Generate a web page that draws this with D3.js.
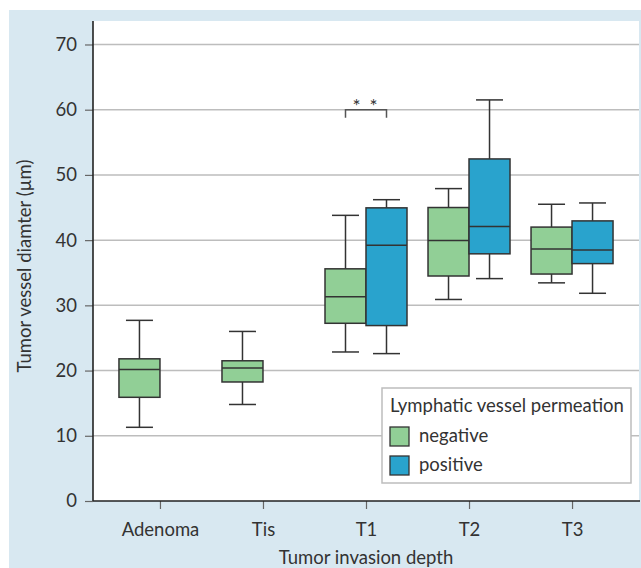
<!DOCTYPE html>
<html>
<head>
<meta charset="utf-8">
<script src="https://cdn.jsdelivr.net/npm/d3@7"></script>
<style>
  html, body { margin: 0; padding: 0; background: #ffffff; }
  svg { display: block; }
  text { font-family: Lato, "Open Sans", sans-serif; fill: #333; }
</style>
</head>
<body>
<div id="chart"></div>
<script>
// ---- data ----
const categories = ["Adenoma", "Tis", "T1", "T2", "T3"];
const seriesNames = ["negative", "positive"];
const seriesColors = ["#91cf96", "#29a3cd"];
const legendTitle = "Lymphatic vessel permeation";
const yTicks = [0, 10, 20, 30, 40, 50, 60, 70];

const negMax = [27.7, 26.0, 43.8, 47.9, 45.5];
const negQ3  = [21.8, 21.5, 35.6, 45.0, 42.0];
const negMed = [20.15, 20.4, 31.3, 39.95, 38.65];
const negQ1  = [15.9, 18.25, 27.25, 34.5, 34.8];
const negMin = [11.3, 14.8, 22.85, 30.9, 33.45];

const posMax = [null, null, 46.2, 61.5, 45.7];
const posQ3  = [null, null, 44.95, 52.45, 42.95];
const posMed = [null, null, 39.2, 42.1, 38.5];
const posQ1  = [null, null, 26.9, 37.9, 36.4];
const posMin = [null, null, 22.6, 34.1, 31.85];

const sigCategory = "T1";
const sigValue = 60;
const sigLabel = "* *";

const xTitle = "Tumor invasion depth";
const yTitle = "Tumor vessel diamter (µm)";

// ---- layout ----
const W = 641, H = 568;
const plot = { left: 93, right: 639, top: 21, bottom: 501 };
const fs = 18.5;

const svg = d3.select("#chart").append("svg").attr("width", W).attr("height", H);

// background
svg.append("rect").attr("x", 9).attr("y", 10).attr("width", W - 9).attr("height", H - 10).attr("fill", "#d8e8f1");
svg.append("rect").attr("x", plot.left).attr("y", plot.top)
  .attr("width", plot.right - plot.left).attr("height", plot.bottom - plot.top).attr("fill", "#ffffff");

const x = d3.scalePoint().domain(categories).range([plot.left, plot.right]).padding(0.65);
const y = d3.scaleLinear().domain([0, 73.6]).range([plot.bottom, plot.top]);

// grid
svg.append("g").selectAll("line").data(yTicks.filter(d => d > 0)).join("line")
  .attr("x1", plot.left).attr("x2", plot.right)
  .attr("y1", d => y(d)).attr("y2", d => y(d))
  .attr("stroke", "#bdbdbd").attr("stroke-width", 1.5);

// axes
const yAxis = svg.append("g").attr("transform", `translate(${plot.left},0)`)
  .call(d3.axisLeft(y).tickValues(yTicks).tickSize(8).tickPadding(8).tickFormat(d3.format("d")));
yAxis.select(".domain").remove();
yAxis.selectAll(".tick line").attr("stroke", "#666").attr("stroke-width", 1.2);
yAxis.selectAll(".tick text").attr("font-size", fs).attr("fill", "#333").style("font-family", "Lato, sans-serif");

const xAxis = svg.append("g").attr("transform", `translate(0,${plot.bottom})`)
  .call(d3.axisBottom(x).tickSize(8).tickPadding(14));
xAxis.select(".domain").remove();
xAxis.selectAll(".tick line").attr("stroke", "#666").attr("stroke-width", 1.2);
xAxis.selectAll(".tick text").attr("font-size", fs).attr("fill", "#333").style("font-family", "Lato, sans-serif");

// axis lines
svg.append("line").attr("x1", plot.left).attr("x2", plot.left).attr("y1", plot.top).attr("y2", plot.bottom)
  .attr("stroke", "#222").attr("stroke-width", 1.6);
svg.append("line").attr("x1", plot.left).attr("x2", plot.right + 1).attr("y1", plot.bottom).attr("y2", plot.bottom)
  .attr("stroke", "#222").attr("stroke-width", 1.6);

// boxes
const boxW = 41, capW = 27;
const series = [
  { name: seriesNames[0], color: seriesColors[0], off: -boxW / 2, min: negMin, q1: negQ1, med: negMed, q3: negQ3, max: negMax },
  { name: seriesNames[1], color: seriesColors[1], off: boxW / 2, min: posMin, q1: posQ1, med: posMed, q3: posQ3, max: posMax }
];
const stroke = "#333";
series.forEach(s => {
  const g = svg.append("g");
  categories.forEach((c, i) => {
    if (s.med[i] == null) return;
    const cx = x(c) + s.off;
    g.append("line").attr("x1", cx).attr("x2", cx).attr("y1", y(s.max[i])).attr("y2", y(s.q3[i]))
      .attr("stroke", stroke).attr("stroke-width", 1.5);
    g.append("line").attr("x1", cx).attr("x2", cx).attr("y1", y(s.q1[i])).attr("y2", y(s.min[i]))
      .attr("stroke", stroke).attr("stroke-width", 1.5);
    g.append("line").attr("x1", cx - capW / 2).attr("x2", cx + capW / 2).attr("y1", y(s.max[i])).attr("y2", y(s.max[i]))
      .attr("stroke", stroke).attr("stroke-width", 1.5);
    g.append("line").attr("x1", cx - capW / 2).attr("x2", cx + capW / 2).attr("y1", y(s.min[i])).attr("y2", y(s.min[i]))
      .attr("stroke", stroke).attr("stroke-width", 1.5);
    g.append("rect").attr("x", cx - boxW / 2).attr("y", y(s.q3[i]))
      .attr("width", boxW).attr("height", y(s.q1[i]) - y(s.q3[i]))
      .attr("fill", s.color).attr("stroke", stroke).attr("stroke-width", 1.5);
    g.append("line").attr("x1", cx - boxW / 2).attr("x2", cx + boxW / 2).attr("y1", y(s.med[i])).attr("y2", y(s.med[i]))
      .attr("stroke", stroke).attr("stroke-width", 1.5);
  });
});

// significance bracket
{
  const x1 = x(sigCategory) - boxW / 2, x2 = x(sigCategory) + boxW / 2, yy = y(sigValue);
  svg.append("path").attr("d", `M${x1},${yy + 8}V${yy}H${x2}V${yy + 8}`)
    .attr("fill", "none").attr("stroke", "#555").attr("stroke-width", 1.5);
  svg.append("text").attr("x", x(sigCategory)).attr("y", yy + 3).attr("text-anchor", "middle")
    .attr("font-size", 19).attr("fill", "#555").style("letter-spacing", "2px").text(sigLabel);
}

// legend
{
  const lg = svg.append("g").attr("transform", "translate(382,388)");
  lg.append("rect").attr("width", 249).attr("height", 95).attr("fill", "#fff")
    .attr("stroke", "#bdbdbd").attr("stroke-width", 1.5);
  lg.append("text").attr("x", 8).attr("y", 24).attr("font-size", fs).text(legendTitle);
  seriesNames.forEach((n, i) => {
    lg.append("rect").attr("x", 8).attr("y", 39 + i * 29).attr("width", 19).attr("height", 19)
      .attr("fill", seriesColors[i]).attr("stroke", stroke).attr("stroke-width", 1.3);
    lg.append("text").attr("x", 37).attr("y", 54 + i * 29).attr("font-size", fs).text(n);
  });
}

// titles
svg.append("text").attr("x", (plot.left + plot.right) / 2).attr("y", 564)
  .attr("text-anchor", "middle").attr("font-size", fs).text(xTitle);
svg.append("text").attr("transform", `translate(31,${(plot.top + plot.bottom) / 2 + 5}) rotate(-90)`)
  .attr("text-anchor", "middle").attr("font-size", fs).text(yTitle);
</script>
</body>
</html>
